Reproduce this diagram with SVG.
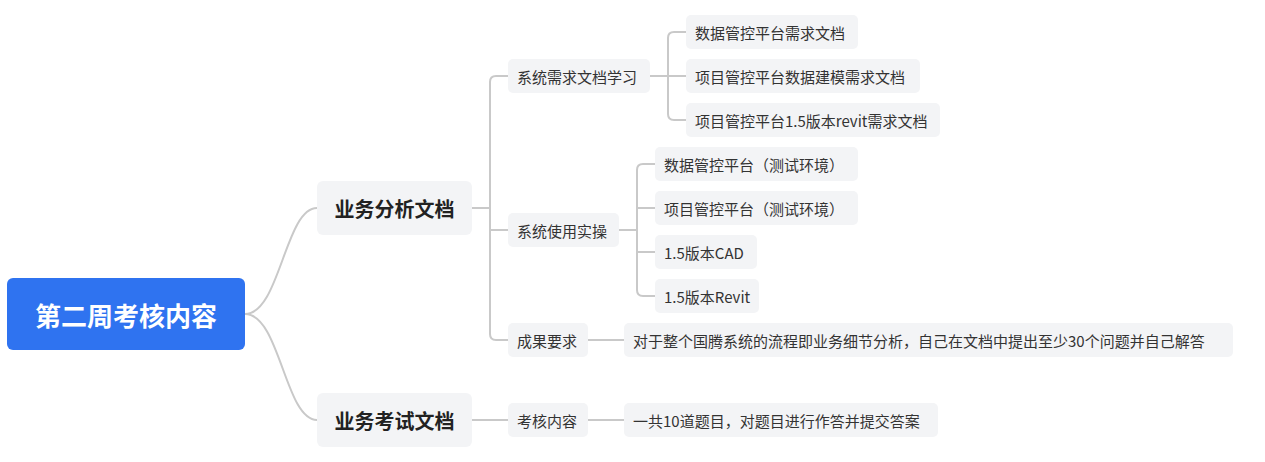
<svg xmlns="http://www.w3.org/2000/svg" width="1265" height="462" viewBox="0 0 1265 462">
<style>
.b{fill:#f3f4f6}
.t{font-family:"Noto Sans CJK SC","Noto Sans",sans-serif;font-size:15px;fill:#333;dominant-baseline:central}
.l1{font-family:"Noto Sans CJK SC",sans-serif;font-size:20px;font-weight:bold;fill:#222;dominant-baseline:central;text-anchor:middle}
.c{fill:none;stroke:#c9c9c9;stroke-width:2}
</style>
<rect width="1265" height="462" fill="#fff"/>
<g id="connectors" class="c">
<path d="M245,314 C280,314 285,208 317,208"/>
<path d="M245,314 C280,314 285,420 317,420"/>
<path d="M472,208 H490 M508,76 H496 Q490,76 490,82 V334 Q490,340 496,340 H508 M490,230 H508"/>
<path d="M472,420 H508"/>
<path d="M650,76 H686 M686,32 H674 Q668,32 668,38 V114 Q668,120 674,120 H686"/>
<path d="M619,230 H637 M655,164 H643 Q637,164 637,170 V290 Q637,296 643,296 H655 M637,208 H655 M637,252 H655"/>
<path d="M588,340 H624"/>
<path d="M588,420 H624"/>
</g>
<g id="root"><rect x="7" y="278" width="238" height="72" rx="6" fill="#2f73f0"/><text x="126" y="314" font-family="Noto Sans CJK SC,sans-serif" font-size="26" font-weight="bold" fill="#fff" text-anchor="middle" dominant-baseline="central">第二周考核内容</text></g>
<g id="n1"><rect class="b" x="317" y="181" width="155" height="54" rx="6"/><text class="l1" x="394.5" y="208">业务分析文档</text></g>
<g id="n2"><rect class="b" x="317" y="393" width="155" height="54" rx="6"/><text class="l1" x="394.5" y="420">业务考试文档</text></g>
<g id="n11"><rect class="b" x="508" y="59" width="142" height="34" rx="5"/><text class="t" x="517" y="76">系统需求文档学习</text></g>
<g id="n12"><rect class="b" x="508" y="213" width="111" height="34" rx="5"/><text class="t" x="517" y="230">系统使用实操</text></g>
<g id="n13"><rect class="b" x="508" y="323" width="80" height="34" rx="5"/><text class="t" x="517" y="340">成果要求</text></g>
<g id="n21"><rect class="b" x="508" y="403" width="80" height="34" rx="5"/><text class="t" x="517" y="420">考核内容</text></g>
<g id="n111"><rect class="b" x="686" y="15" width="172" height="34" rx="5"/><text class="t" x="695" y="32">数据管控平台需求文档</text></g>
<g id="n112"><rect class="b" x="686" y="59" width="234" height="34" rx="5"/><text class="t" x="695" y="76">项目管控平台数据建模需求文档</text></g>
<g id="n113"><rect class="b" x="686" y="103" width="254" height="34" rx="5"/><text class="t" x="695" y="120">项目管控平台1.5版本revit需求文档</text></g>
<g id="n121"><rect class="b" x="655" y="147" width="203" height="34" rx="5"/><text class="t" x="664" y="164">数据管控平台（测试环境）</text></g>
<g id="n122"><rect class="b" x="655" y="191" width="203" height="34" rx="5"/><text class="t" x="664" y="208">项目管控平台（测试环境）</text></g>
<g id="n123"><rect class="b" x="655" y="235" width="102" height="34" rx="5"/><text class="t" x="664" y="252">1.5版本CAD</text></g>
<g id="n124"><rect class="b" x="655" y="279" width="104" height="34" rx="5"/><text class="t" x="664" y="296">1.5版本Revit</text></g>
<g id="n131"><rect class="b" x="624" y="323" width="609" height="34" rx="5"/><text class="t" x="633" y="340">对于整个国腾系统的流程即业务细节分析，自己在文档中提出至少30个问题并自己解答</text></g>
<g id="n211"><rect class="b" x="624" y="403" width="314" height="34" rx="5"/><text class="t" x="633" y="420">一共10道题目，对题目进行作答并提交答案</text></g>
</svg>
